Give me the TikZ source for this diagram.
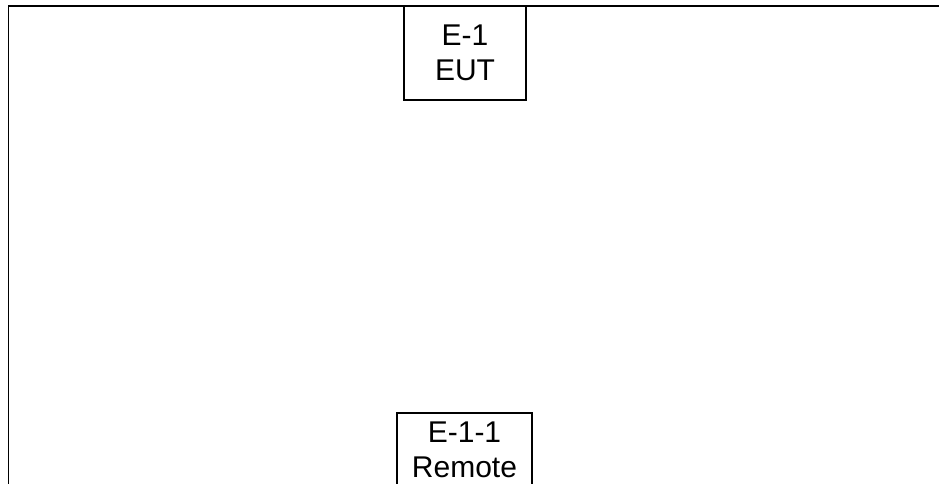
\documentclass[tikz,border=0pt]{standalone}
\usepackage{fontspec}
\setmainfont{Liberation Sans}
\begin{document}
\begin{tikzpicture}[x=1pt,y=1pt,
  unitbox/.style={draw, line width=1.2pt, align=center, inner sep=0pt,
    font=\fontsize{30}{35}\selectfont, anchor=center},
  frameline/.style={line width=1.8pt}]
\useasboundingbox (0,0) rectangle (939,484);
\clip (0,0) rectangle (939,484);
\fill[white] (0,0) rectangle (939,484);
\coordinate (fl) at (8.5,-2);
\coordinate (ftl) at (8.5,478);
\coordinate (ftr) at (941,478);
\draw[frameline] (fl) -- (ftl) -- (ftr);
\node[unitbox, minimum width=122pt, minimum height=94pt] (eut) at (465,431) {E-1\\EUT};
\node[unitbox, minimum width=135pt, minimum height=74pt] (remote) at (464.5,34) {E-1-1\\Remote};
\end{tikzpicture}
\end{document}
